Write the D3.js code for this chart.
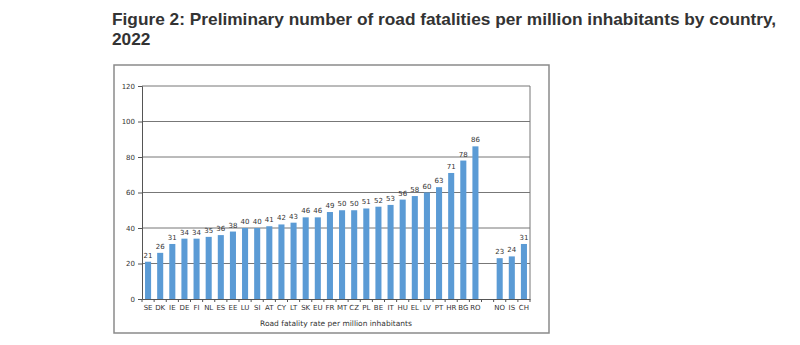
<!DOCTYPE html>
<html><head><meta charset="utf-8">
<script src="https://cdn.jsdelivr.net/npm/d3@7"></script>
<style>body{margin:0;background:#fff}svg{display:block}</style>
</head><body>
<svg id="c" width="800" height="345"></svg>
<script>
const euCountries = ["SE","DK","IE","DE","FI","NL","ES","EE","LU","SI","AT","CY","LT","SK","EU","FR","MT","CZ","PL","BE","IT","HU","EL","LV","PT","HR","BG","RO"];
const euValues = [21,26,31,34,34,35,36,38,40,40,41,42,43,46,46,49,50,50,51,52,53,56,58,60,63,71,78,86];
const eftaCountries = ["NO","IS","CH"];
const eftaValues = [23,24,31];
const yTicks = [0,20,40,60,80,100,120];
const titleLines = ["Figure 2: Preliminary number of road fatalities per million inhabitants by country,","2022"];
const xTitle = "Road fatality rate per million inhabitants";

(function(){
const GAP = "__gap";
const data = euCountries.map((c,i)=>({c, v:euValues[i]}))
  .concat(eftaCountries.map((c,i)=>({c, v:eftaValues[i]})));
const domain = euCountries.concat([GAP], eftaCountries);

const svg = d3.select("#c");
const font = "'DejaVu Sans', Verdana, sans-serif";

// title
const t = svg.append("g");
titleLines.forEach((s,i)=>{
  t.append("text").attr("x",112).attr("y",25+i*20)
   .attr("font-family","'Liberation Sans', Arial, sans-serif")
   .attr("font-weight","bold").attr("font-size",17.3).attr("fill","#333").text(s);
});

// outer frame
svg.append("rect").attr("x",114).attr("y",65).attr("width",435).attr("height",268)
  .attr("fill","none").attr("stroke","#8a8a8a").attr("stroke-width",1.5);

const pL=142, pR=530, pT=86, pB=299;
const x = d3.scaleBand().domain(domain).range([pL,pR]).paddingInner(0.5).paddingOuter(0.25);
const y = d3.scaleLinear().domain([0,120]).range([pB,pT]);

// gridlines
svg.append("g").selectAll("line").data(yTicks.filter(d=>d>0)).join("line")
  .attr("x1",pL).attr("x2",pR).attr("y1",d=>y(d)).attr("y2",d=>y(d))
  .attr("stroke","#777").attr("stroke-width",1);
// right border of plot
svg.append("line").attr("x1",pR).attr("x2",pR).attr("y1",pT).attr("y2",pB)
  .attr("stroke","#777").attr("stroke-width",1);

// bars
svg.append("g").selectAll("rect").data(data).join("rect")
  .attr("x",d=>x(d.c)).attr("width",x.bandwidth())
  .attr("y",d=>y(d.v)).attr("height",d=>y(0)-y(d.v)).attr("fill","#5b9bd5");

// value labels
svg.append("g").selectAll("text").data(data).join("text")
  .attr("x",d=>x(d.c)+x.bandwidth()/2).attr("y",d=>y(d.v)-4)
  .attr("text-anchor","middle").attr("font-family",font).attr("font-size",7)
  .attr("fill","#333").text(d=>d.v);

// y axis
const ya = svg.append("g").attr("transform",`translate(${pL},0)`)
  .call(d3.axisLeft(y).tickValues(yTicks).tickSize(4).tickPadding(3));
ya.select(".domain").attr("stroke","#555");
ya.selectAll(".tick line").attr("stroke","#555");
ya.selectAll("text").attr("font-family",font).attr("font-size",7).attr("fill","#333");

// x axis
const xa = svg.append("g").attr("transform",`translate(0,${pB})`)
  .call(d3.axisBottom(x).tickSize(0).tickPadding(6).tickFormat(d=>d===GAP?"":d));
xa.select(".domain").attr("stroke","#555");
xa.selectAll("text").attr("font-family",font).attr("font-size",7).attr("fill","#333");
// boundary ticks
const bounds = domain.map(d=>x(d)-x.step()*x.paddingInner()/2).concat([pR]);
svg.append("g").selectAll("line").data(bounds).join("line")
  .attr("x1",d=>d).attr("x2",d=>d).attr("y1",pB).attr("y2",pB+3)
  .attr("stroke","#555");

// x title
svg.append("text").attr("x",(pL+pR)/2).attr("y",326).attr("text-anchor","middle")
  .attr("font-family",font).attr("font-size",7.5).attr("fill","#333").text(xTitle);
})();
</script>
</body></html>
